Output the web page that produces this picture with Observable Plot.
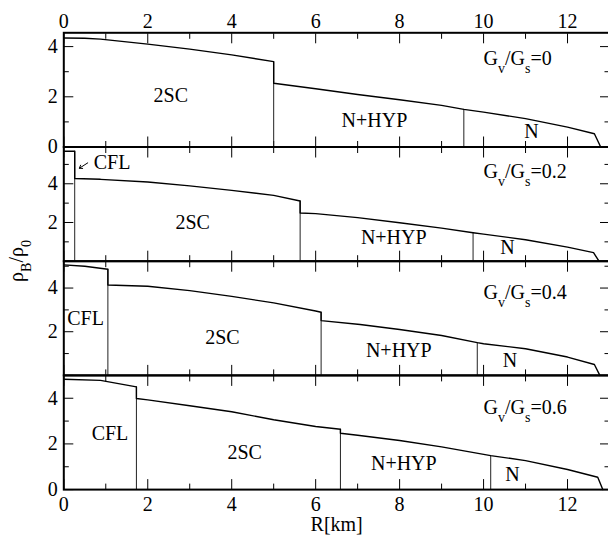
<!DOCTYPE html>
<html>
<head>
<meta charset="utf-8">
<script src="https://cdn.jsdelivr.net/npm/d3@7"></script>
<script src="https://cdn.jsdelivr.net/npm/@observablehq/plot@0.6"></script>
<style>
  html, body { margin: 0; padding: 0; background: #fff; overflow: hidden; }
  #chart { position: relative; width: 608px; height: 537px; }
  #chart svg { position: absolute; left: 0; top: 0; }
  #chart svg text { font-family: "Liberation Serif", "DejaVu Serif", "Liberation Sans", Arial, sans-serif; }
</style>
</head>
<body>
<div id="chart"></div>
<script>
// ---------- data ----------
const xDomain = [0, 13];
const xMajorTicks = [0, 2, 4, 6, 8, 10, 12];
const xMinorTicks = [1, 3, 5, 7, 9, 11];
const yMajorTicks = [0, 2, 4];
const yMinorTicks = [1, 3, 5];
const xTitle = "R[km]";

const gvRatios = ["0", "0.2", "0.4", "0.6"];
const yMaxes = [4.55, 5.9, 5.23, 5.0];
const yLabelTicks = [[0, 2, 4], [2, 4], [2, 4], [0, 2, 4]];

// Gv/Gs = 0
const rP1 = [0, 0.5, 0.875, 2, 3, 4, 5.0, 5.0, 6, 7, 8, 9, 9.53, 10, 11, 12, 12.64, 12.79];
const rhoP1 = [4.34, 4.33, 4.30, 4.10, 3.90, 3.67, 3.40, 2.54, 2.32, 2.09, 1.88, 1.66, 1.50, 1.39, 1.13, 0.79, 0.53, 0];
const boundRP1 = [5.0, 9.53];
const boundTopP1 = [3.40, 1.50];

// Gv/Gs = 0.2
const rP2 = [0, 0.26, 0.26, 0.875, 2, 3, 4, 5, 5.63, 5.63, 6, 7, 8, 9, 9.75, 10, 11, 12, 12.62, 12.75];
const rhoP2 = [5.68, 5.68, 4.27, 4.23, 4.09, 3.89, 3.66, 3.40, 3.11, 2.49, 2.46, 2.25, 1.99, 1.71, 1.47, 1.40, 1.11, 0.73, 0.44, 0];
const boundRP2 = [0.26, 5.63, 9.75];
const boundTopP2 = [5.68, 3.11, 1.47];

// Gv/Gs = 0.4
const rP3 = [0, 0.5, 1.05, 1.05, 2, 3, 4, 5, 6, 6.13, 6.13, 7.06, 8, 9, 9.85, 10, 11, 12, 12.64, 12.77];
const rhoP3 = [5.06, 5.0, 4.86, 4.14, 4.08, 3.88, 3.62, 3.32, 2.95, 2.89, 2.51, 2.33, 2.10, 1.83, 1.50, 1.45, 1.22, 0.84, 0.50, 0];
const boundRP3 = [1.05, 6.13, 9.85];
const boundTopP3 = [4.86, 2.89, 1.50];

// Gv/Gs = 0.6
const rP4 = [0, 0.875, 1.73, 1.73, 2, 3, 4, 5, 6, 6.59, 6.59, 7, 8, 9, 10.17, 11, 12, 12.72, 12.84];
const rhoP4 = [4.83, 4.78, 4.50, 3.99, 3.93, 3.67, 3.41, 3.06, 2.76, 2.64, 2.47, 2.38, 2.15, 1.87, 1.49, 1.27, 0.88, 0.54, 0];
const boundRP4 = [1.73, 6.59, 10.17];
const boundTopP4 = [4.50, 2.64, 1.49];

// phase labels
const phaseNamesP1 = ["2SC", "N+HYP", "N"];
const phaseXP1 = [2.55, 7.40, 11.14];
const phaseYP1 = [2.03, 1.06, 0.60];
const phaseNamesP2 = ["2SC", "N+HYP", "N", "CFL"];
const phaseXP2 = [3.07, 7.86, 10.57, 1.15];
const phaseYP2 = [1.98, 1.20, 0.68, 5.10];
const phaseNamesP3 = ["CFL", "2SC", "N+HYP", "N"];
const phaseXP3 = [0.52, 3.78, 7.98, 10.63];
const phaseYP3 = [2.62, 1.72, 1.15, 0.70];
const phaseNamesP4 = ["CFL", "2SC", "N+HYP", "N"];
const phaseXP4 = [1.10, 4.31, 8.10, 10.69];
const phaseYP4 = [2.46, 1.60, 1.16, 0.65];

const gLabelX = 10.0;
const gLabelY = [3.53, 4.61, 3.80, 3.61];

// CFL arrow in the Gv/Gs = 0.2 panel
const cflArrowX = [0.57, 0.37];
const cflArrowY = [5.08, 4.80];

// ---------- build ----------
const zip = (xs, ys) => xs.map((x, i) => ({x, y: ys[i]}));
const panels = [
  {r: rP1, rho: rhoP1, bR: boundRP1, bTop: boundTopP1, names: phaseNamesP1, px: phaseXP1, py: phaseYP1},
  {r: rP2, rho: rhoP2, bR: boundRP2, bTop: boundTopP2, names: phaseNamesP2, px: phaseXP2, py: phaseYP2},
  {r: rP3, rho: rhoP3, bR: boundRP3, bTop: boundTopP3, names: phaseNamesP3, px: phaseXP3, py: phaseYP3},
  {r: rP4, rho: rhoP4, bR: boundRP4, bTop: boundTopP4, names: phaseNamesP4, px: phaseXP4, py: phaseYP4}
];

const W = 608, H = 537;
const top0 = 32.3, ph = 114.2;
const FS = 20;
const font = "'Liberation Serif', 'DejaVu Serif', 'Liberation Sans', Arial, sans-serif";
const chart = document.getElementById("chart");
const svgs = [];

panels.forEach((p, i) => {
  const mt = top0 + i * ph;
  const mb = H - (top0 + (i + 1) * ph);
  const yMax = yMaxes[i];
  const minorY = yMinorTicks.filter(v => v < yMax);
  const marks = [
    Plot.axisX(xMajorTicks, {anchor: "top", tickSize: -10, fill: "none", label: null, strokeWidth: 1}),
    Plot.axisX(xMinorTicks, {anchor: "top", tickSize: -5.5, fill: "none", label: null, strokeWidth: 1}),
    Plot.axisX(xMajorTicks, {anchor: "bottom", tickSize: -10, fill: "none", label: null, strokeWidth: 1}),
    Plot.axisX(xMinorTicks, {anchor: "bottom", tickSize: -5.5, fill: "none", label: null, strokeWidth: 1}),
    Plot.axisY(yMajorTicks, {anchor: "left", tickSize: -10, fill: "none", label: null, strokeWidth: 1}),
    Plot.axisY(minorY, {anchor: "left", tickSize: -5.5, fill: "none", label: null, strokeWidth: 1}),
    Plot.axisY(yMajorTicks, {anchor: "right", tickSize: -10, fill: "none", label: null, strokeWidth: 1}),
    Plot.axisY(minorY, {anchor: "right", tickSize: -5.5, fill: "none", label: null, strokeWidth: 1}),
    Plot.axisY(yLabelTicks[i], {anchor: "left", tickSize: 0, tickPadding: 6, label: null, fontSize: FS, fill: "#000", fontFamily: font})
  ];
  if (i === 0) marks.push(Plot.axisX(xMajorTicks, {anchor: "top", tickSize: 0, tickPadding: 5, label: null, fontSize: FS, fill: "#000", fontFamily: font}));
  if (i === 3) marks.push(Plot.axisX(xMajorTicks, {anchor: "bottom", tickSize: 0, tickPadding: 7, label: null, fontSize: FS, fill: "#000", fontFamily: font}));
  marks.push(
    Plot.ruleX(zip(p.bR, p.bTop), {x: "x", y1: 0, y2: "y", stroke: "#222", strokeWidth: 1}),
    Plot.line(zip(p.r, p.rho), {x: "x", y: "y", stroke: "#000", strokeWidth: 1.4}),
    Plot.frame({stroke: "#000", strokeWidth: 2}),
    Plot.text(p.names.map((n, k) => ({n, x: p.px[k], y: p.py[k]})), {x: "x", y: "y", text: "n", fontSize: FS, fill: "#000", textAnchor: "middle", fontFamily: font}),
    Plot.text([{t: "Gv/Gs=" + gvRatios[i], x: gLabelX, y: gLabelY[i]}], {x: "x", y: "y", text: "t", fontSize: FS, fill: "#000", textAnchor: "start", fontFamily: font})
  );
  if (i === 1) {
    marks.push(Plot.arrow([{x1: cflArrowX[0], y1: cflArrowY[0], x2: cflArrowX[1], y2: cflArrowY[1]}],
      {x1: "x1", y1: "y1", x2: "x2", y2: "y2", stroke: "#000", strokeWidth: 1, headLength: 5, headAngle: 70}));
  }
  if (i === 3) {
    // axis titles, drawn as text marks anchored to the frame of the bottom panel
    marks.push(Plot.text([xTitle], {frameAnchor: "bottom", dy: 41, text: d => d, fontSize: FS, fill: "#000", fontFamily: font, lineAnchor: "bottom"}));
  }
  const svg = Plot.plot({
    width: W, height: H,
    marginLeft: 63.3, marginRight: -1, marginTop: mt, marginBottom: mb,
    x: {domain: xDomain},
    y: {domain: [0, yMax]},
    style: {background: "transparent", overflow: "visible", fontFamily: font, fontSize: FS + "px", color: "#000"},
    marks
  });
  d3.select(svg).selectAll("text").each(function () {
    const s = this.textContent;
    if (s.startsWith("Gv/Gs=")) {
      const t = d3.select(this);
      t.text(null);
      t.append("tspan").text("G");
      t.append("tspan").attr("font-size", 14).attr("dy", 8).text("v");
      t.append("tspan").attr("dy", -8).text("/G");
      t.append("tspan").attr("font-size", 14).attr("dy", 8).text("s");
      t.append("tspan").attr("dy", -8).text("=" + s.slice(6));
    }
  });
  chart.appendChild(svg);
  svgs.push(svg);
});

// y-axis title with subscripts: rho_B / rho_0
const yTitle = d3.select(svgs[0]).append("text")
  .attr("transform", "translate(23,261) rotate(-90)")
  .attr("text-anchor", "middle")
  .attr("font-size", FS)
  .attr("font-family", font)
  .attr("fill", "#000");
yTitle.append("tspan").text("ρ");
yTitle.append("tspan").attr("font-size", 14).attr("dy", 8).text("B");
yTitle.append("tspan").attr("dy", -8).text("/ρ");
yTitle.append("tspan").attr("font-size", 14).attr("dy", 8).text("0");
</script>
</body>
</html>
